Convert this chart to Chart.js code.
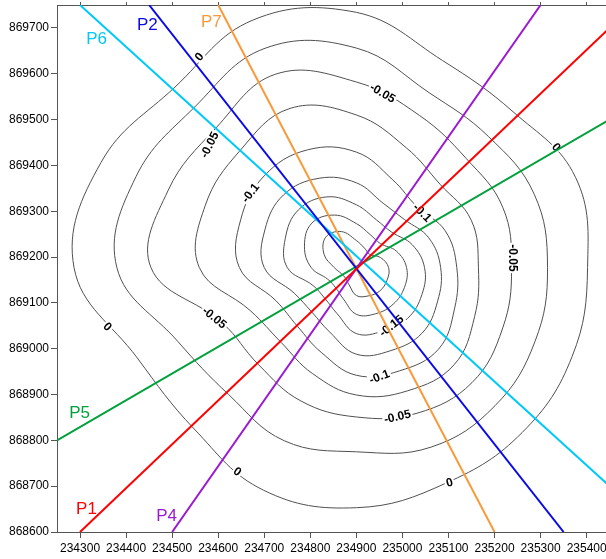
<!DOCTYPE html>
<html>
<head>
<meta charset="utf-8">
<script src="https://cdn.jsdelivr.net/npm/chart.js@4.4.0/dist/chart.umd.min.js"></script>
<style>
  html, body { margin: 0; padding: 0; background: #fff; }
  #wrap { width: 606px; height: 559px; }
</style>
</head>
<body>
<div id="wrap"><canvas id="map" width="606" height="559"></canvas></div>
<script>
// axis ranges and tick labels (metres)
const xMin = 234250, xMax = 235442;
const yMin = 868600, yMax = 869750;
const xTicks = [234300, 234400, 234500, 234600, 234700, 234800, 234900, 235000, 235100, 235200, 235300, 235400];
const yTicks = [868600, 868700, 868800, 868900, 869000, 869100, 869200, 869300, 869400, 869500, 869600, 869700];

// contours: radius (m) from the anomaly centre at each bearing (deg, ccw from east)
const anomalyCentre = [234900, 869177];
const bearings = [0, 22.5, 45, 67.5, 90, 112.5, 135, 157.5, 180, 202.5, 225, 247.5, 270, 292.5, 315, 337.5];
const contourLevels = [0, -0.025, -0.05, -0.075, -0.1, -0.125, -0.15, -0.175, -0.2];
const r000 = [502, 515, 481, 489, 557, 585, 557, 600, 613, 515, 498, 526, 524, 509, 509, 507];
const r025 = [415, 418, 405, 413, 479, 518, 496, 518, 520, 420, 392, 409, 402, 424, 426, 420];
const r050 = [337, 344, 337, 359, 405, 457, 431, 442, 446, 315, 300, 315, 326, 344, 355, 344];
const r075 = [265, 270, 257, 283, 333, 376, 359, 355, 341, 248, 231, 250, 278, 291, 300, 278];
const r100 = [218, 209, 187, 207, 252, 278, 283, 272, 254, 189, 181, 200, 235, 244, 252, 231];
const r125 = [183, 170, 148, 152, 185, 211, 224, 215, 200, 146, 137, 152, 189, 196, 202, 191];
const r150 = [148, 131, 109, 113, 137, 167, 178, 167, 150, 102, 96, 109, 144, 150, 157, 154];
const r175 = [109, 94, 74, 78, 96, 124, 137, 122, 98, 67, 63, 74, 102, 109, 113, 113];
const r200 = [70, 57, 41, 46, 59, 85, 94, 76, 48, 35, 33, 41, 61, 67, 72, 72];
const contourRadii = [r000, r025, r050, r075, r100, r125, r150, r175, r200];

// contour labels
const labelText  = ['0', '-0.05', '-0.1', '-0.05', '-0.1', '0', '-0.05', '0', '-0.05', '0', '-0.15', '-0.1', '-0.05', '0'];
const labelX     = [234559, 234581, 234670, 234957, 235043, 235334, 235239, 234360, 234592, 234642, 234976, 234950, 234989, 235102];
const labelY     = [869637, 869445, 869340, 869558, 869297, 869440, 869198, 869048, 869068, 868732, 869050, 868939, 868852, 868708];
const labelAngle = [-50, -63, -52, 31, 45, 48, 90, 45, 39, 35, -38, -21, -13, -15];

// profile lines
const profileNames  = ['P1', 'P2', 'P4', 'P5', 'P6', 'P7'];
const profileColors = ['#ff0000', '#0a0ae6', '#9a19d1', '#00a03c', '#00c8f8', '#f99a3a'];
const profileStart  = [[234300, 868600], [234450, 869750], [234500, 868600], [234250, 868800], [234300, 869750], [234600, 869750]];
const profileEnd    = [[235450, 869700], [235350, 868600], [235300, 869750], [235450, 869500], [235450, 868700], [235200, 868600]];
const profileLabelX = [234314, 234446, 234488, 234299, 234336, 234585];
const profileLabelY = [868649, 869706, 868634, 868858, 869676, 869713];

const FONT = '"Liberation Sans", Arial, sans-serif';

const datasets = [];
profileNames.forEach((name, i) => {
    datasets.push({
        label: name,
        data: [{ x: profileStart[i][0], y: profileStart[i][1] }, { x: profileEnd[i][0], y: profileEnd[i][1] }],
        showLine: true, borderColor: profileColors[i], borderWidth: 2, pointRadius: 0, tension: 0
    });
});
contourLevels.forEach((lvl, k) => {
    const pts = bearings.map((b, j) => {
        const a = b * Math.PI / 180;
        return { x: anomalyCentre[0] + contourRadii[k][j] * Math.cos(a), y: anomalyCentre[1] + contourRadii[k][j] * Math.sin(a) };
    });
    datasets.push({
        label: String(lvl), data: pts, contour: true,
        showLine: true, borderColor: '#505050', borderWidth: 1, pointRadius: 0, tension: 0.4
    });
});

// make the contour lines closed smooth loops
const closeContours = {
    id: 'closeContours',
    afterDatasetsUpdate(chart) {
        chart.data.datasets.forEach((ds, i) => {
            if (!ds.contour) return;
            const line = chart.getDatasetMeta(i).dataset;
            if (!line) return;
            line._loop = true;
            line._fullLoop = true;
            line._segments = undefined;
            line._path = undefined;
            line._pointsUpdated = false;
        });
    }
};

// contour values (drawn over contours, under the profiles) and profile names
const mapLabels = {
    id: 'mapLabels',
    beforeDatasetDraw(chart, args) {
        if (args.index !== profileNames.length - 1) return;
        const { ctx, chartArea: ca, scales: { x, y } } = chart;
        ctx.save();
        ctx.beginPath();
        ctx.rect(ca.left, ca.top, ca.right - ca.left, ca.bottom - ca.top);
        ctx.clip();
        ctx.font = 'bold 12px ' + FONT;
        ctx.textAlign = 'center';
        ctx.textBaseline = 'middle';
        labelText.forEach((t, i) => {
            ctx.save();
            ctx.translate(x.getPixelForValue(labelX[i]), y.getPixelForValue(labelY[i]));
            ctx.rotate(labelAngle[i] * Math.PI / 180);
            const w = ctx.measureText(t).width + 3;
            ctx.fillStyle = '#fff';
            ctx.fillRect(-w / 2, -6, w, 12);
            ctx.fillStyle = '#000';
            ctx.fillText(t, 0, 0.5);
            ctx.restore();
        });
        ctx.restore();
    },
    afterDatasetsDraw(chart) {
        const { ctx, scales: { x, y } } = chart;
        ctx.save();
        ctx.font = '17px ' + FONT;
        ctx.textAlign = 'center';
        ctx.textBaseline = 'middle';
        profileNames.forEach((n, i) => {
            ctx.fillStyle = profileColors[i];
            ctx.fillText(n, x.getPixelForValue(profileLabelX[i]), y.getPixelForValue(profileLabelY[i]));
        });
        ctx.restore();
    }
};

const tickFont = { family: FONT, size: 12 };
const noPad = a => { a.paddingLeft = 0; a.paddingRight = 0; a.paddingTop = 0; a.paddingBottom = 0; };

new Chart(document.getElementById('map').getContext('2d'), {
    type: 'scatter',
    data: { datasets },
    options: {
        responsive: false,
        animation: false,
        events: [],
        layout: { padding: 0 },
        plugins: { legend: { display: false }, tooltip: { enabled: false } },
        scales: {
            x: {
                type: 'linear', position: 'bottom', min: xMin, max: xMax,
                afterBuildTicks: a => { a.ticks = xTicks.map(v => ({ value: v })); },
                afterFit: a => { a.height = 27; noPad(a); },
                ticks: { callback: v => String(v), color: '#000', font: tickFont, padding: 3, maxRotation: 0, autoSkip: false },
                grid: { drawOnChartArea: false, tickLength: 6, color: '#555' },
                border: { color: '#555' }
            },
            xTop: {
                type: 'linear', position: 'top', min: xMin, max: xMax,
                afterBuildTicks: a => { a.ticks = xTicks.map(v => ({ value: v })); },
                afterFit: a => { a.height = 5; noPad(a); },
                ticks: { display: false },
                grid: { drawOnChartArea: false, tickLength: 3, color: '#555' },
                border: { color: '#555' }
            },
            y: {
                type: 'linear', position: 'left', min: yMin, max: yMax,
                afterBuildTicks: a => { a.ticks = yTicks.map(v => ({ value: v })); },
                afterFit: a => { a.width = 57; noPad(a); },
                ticks: { callback: v => String(v), color: '#000', font: tickFont, padding: 2, autoSkip: false },
                grid: { drawOnChartArea: false, tickLength: 6, color: '#555' },
                border: { color: '#555' }
            }
        }
    },
    plugins: [closeContours, mapLabels]
});
</script>
</body>
</html>
